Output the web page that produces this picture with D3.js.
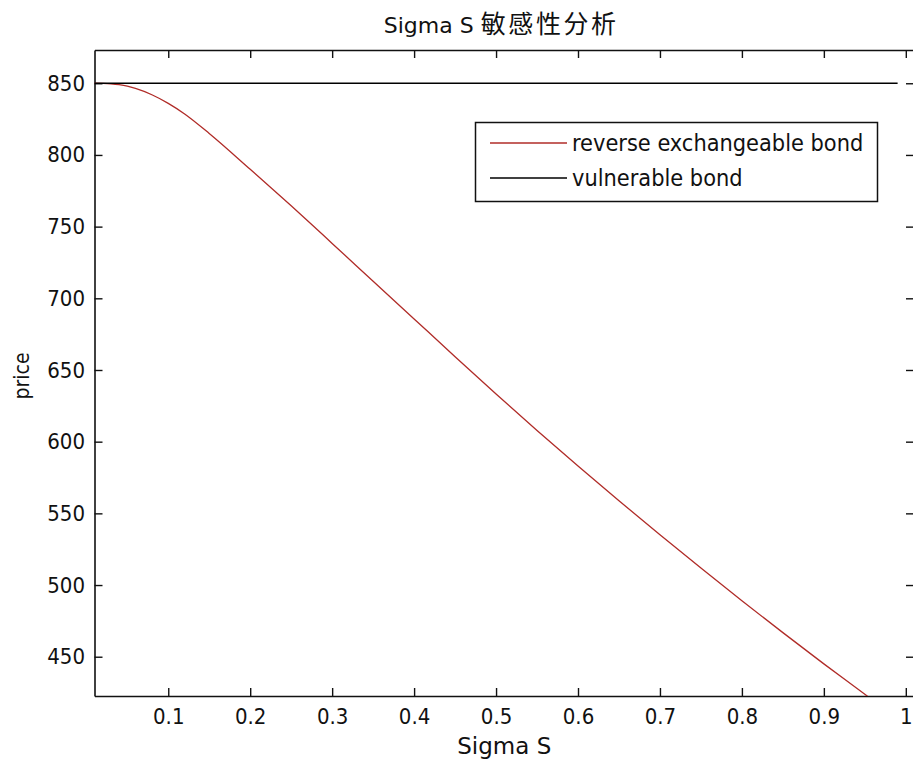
<!DOCTYPE html>
<html>
<head>
<meta charset="utf-8">
<script src="https://cdn.jsdelivr.net/npm/d3@7/dist/d3.min.js"></script>
<style>
  html, body { margin: 0; padding: 0; background: #fff; }
  svg { display: block; }
  text { font-family: "DejaVu Sans Condensed", "DejaVu Sans", "Noto Sans CJK SC", sans-serif; fill: #111; }
</style>
</head>
<body>
<svg id="chart" width="913" height="766"></svg>
<script>
// Sigma S sensitivity: price of the two bonds as the stock volatility varies
const sigmaS = [0.01, 0.02, 0.03, 0.04, 0.05, 0.06, 0.08, 0.10, 0.12, 0.15,
                0.20, 0.25, 0.30, 0.35, 0.40, 0.45, 0.50, 0.55, 0.60, 0.65,
                0.70, 0.75, 0.80, 0.85, 0.90, 0.95, 0.96];
const reversePrice = [850, 849.9, 849.6, 849.0, 848.0, 846.4, 842.0, 836.0, 828.6, 815.0,
                      790.0, 764.5, 738.3, 711.9, 685.6, 659.3, 633.3, 607.8, 583, 558.8,
                      535, 511.8, 489, 466.8, 445, 423.8, 419.5];
const vulnerableSigma = [0.01, 0.99];
const vulnerablePrice = [850, 850];

const xTicks = [0.1, 0.2, 0.3, 0.4, 0.5, 0.6, 0.7, 0.8, 0.9, 1];
const xTickLabels = ["0.1", "0.2", "0.3", "0.4", "0.5", "0.6", "0.7", "0.8", "0.9", "1"];
const yTicks = [450, 500, 550, 600, 650, 700, 750, 800, 850];

const titleLatin = "Sigma S ";
const titleCjk = "敏感性分析";
const xLabel = "Sigma S";
const yLabel = "price";
const seriesNames = ["reverse exchangeable bond", "vulnerable bond"];
const seriesColors = ["#b02c28", "#000000"];

const svg = d3.select("#chart");
const plot = { left: 94.5, right: 914, top: 50, bottom: 696 };

const x = d3.scaleLinear().domain([0.01, 1.01]).range([plot.left, plot.right]);
const y = d3.scaleLinear().domain([422.6, 873.2]).range([plot.bottom, plot.top]);

svg.append("defs").append("clipPath").attr("id", "plotClip")
  .append("rect")
  .attr("x", plot.left).attr("y", plot.top)
  .attr("width", plot.right - plot.left).attr("height", plot.bottom - plot.top);

const tickLen = 8;
const tickFont = '"DejaVu Sans Condensed", "DejaVu Sans", sans-serif';

// Bottom axis with labels, top axis with inward ticks only
const xBottom = d3.axisBottom(x).tickValues(xTicks)
  .tickFormat((d, i) => xTickLabels[i]).tickSizeInner(-tickLen).tickSizeOuter(0).tickPadding(12);
const gxb = svg.append("g").attr("transform", `translate(0,${plot.bottom})`).call(xBottom);

const xTop = d3.axisTop(x).tickValues(xTicks).tickFormat("").tickSizeInner(-tickLen).tickSizeOuter(0);
const gxt = svg.append("g").attr("transform", `translate(0,${plot.top})`).call(xTop);

// Left axis with labels, right axis with inward ticks only
const yLeft = d3.axisLeft(y).tickValues(yTicks).tickFormat(d3.format("d"))
  .tickSizeInner(-tickLen).tickSizeOuter(0).tickPadding(9.5);
const gyl = svg.append("g").attr("transform", `translate(${plot.left},0)`).call(yLeft);

const yRight = d3.axisRight(y).tickValues(yTicks).tickFormat("").tickSizeInner(-tickLen).tickSizeOuter(0);
const gyr = svg.append("g").attr("transform", `translate(${plot.right},0)`).call(yRight);

[gxb, gxt, gyl, gyr].forEach(g => {
  g.select(".domain").attr("stroke", "#111").attr("stroke-width", 1.6);
  g.selectAll(".tick line").attr("stroke", "#111").attr("stroke-width", 1.4);
  g.selectAll(".tick text")
    .style("font-family", tickFont)
    .style("font-size", "22px").attr("fill", "#111");
});
gxb.selectAll(".tick text").attr("dy", "0.73em");

// Data lines
const line = d3.line().x(d => x(d[0])).y(d => y(d[1])).curve(d3.curveMonotoneX);
const lines = svg.append("g").attr("clip-path", "url(#plotClip)");

lines.append("path")
  .datum(sigmaS.map((s, i) => [s, reversePrice[i]]))
  .attr("d", line).attr("fill", "none")
  .attr("stroke", seriesColors[0]).attr("stroke-width", 1.3);

lines.append("path")
  .datum(vulnerableSigma.map((s, i) => [s, vulnerablePrice[i]]))
  .attr("d", line).attr("fill", "none")
  .attr("stroke", seriesColors[1]).attr("stroke-width", 1.5);

// Title: Latin part and CJK part set in their own faces
const midX = (plot.left + plot.right) / 2;
const title = svg.append("text").attr("x", midX - 3).attr("y", 33).attr("text-anchor", "middle");
title.append("tspan").style("font-family", '"DejaVu Sans", sans-serif').style("font-size", "22px")
  .attr("xml:space", "preserve").style("white-space", "pre").text(titleLatin);
title.append("tspan").style("font-family", '"Noto Sans CJK SC", sans-serif').style("font-size", "25px")
  .style("letter-spacing", "2.6px").text(titleCjk);

svg.append("text").attr("x", midX).attr("y", 754).attr("text-anchor", "middle")
  .style("font-family", '"DejaVu Sans", sans-serif').style("font-size", "23px").text(xLabel);
svg.append("text").attr("transform", `translate(29,${(plot.top + plot.bottom) / 2 + 3}) rotate(-90)`)
  .attr("text-anchor", "middle").style("font-size", "21px").text(yLabel);

// Legend
const legend = svg.append("g");
legend.append("rect").attr("x", 475.5).attr("y", 122.5).attr("width", 402).attr("height", 79)
  .attr("fill", "#fff").attr("stroke", "#111").attr("stroke-width", 1.5);
seriesNames.forEach((name, i) => {
  const cy = 143 + i * 35;
  legend.append("line").attr("x1", 490).attr("x2", 567).attr("y1", cy).attr("y2", cy)
    .attr("stroke", seriesColors[i]).attr("stroke-width", i === 0 ? 1.3 : 1.5);
  legend.append("text").attr("x", 572).attr("y", cy).attr("dy", "0.36em")
    .style("font-size", "23.3px").text(name);
});
</script>
</body>
</html>
